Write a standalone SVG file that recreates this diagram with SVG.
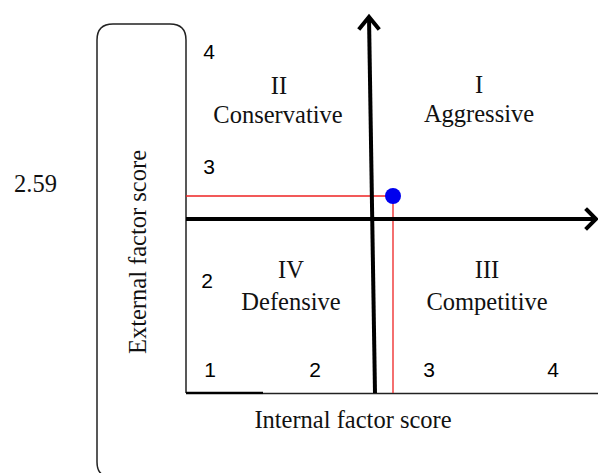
<svg xmlns="http://www.w3.org/2000/svg" width="598" height="473" viewBox="0 0 598 473">
<style>
.serif{font-family:"Liberation Serif","Times New Roman",serif;font-size:24.5px;fill:#111}
.num{font-family:"Liberation Sans",Arial,sans-serif;font-size:21px;fill:#000}
.axis{stroke:#000;stroke-width:4;fill:none;stroke-linecap:butt}
.head{stroke:#000;stroke-width:4;fill:none;stroke-linejoin:miter;stroke-linecap:square}
.red{stroke:#ee2222;stroke-width:1.3;fill:none}
</style>
<rect width="598" height="473" fill="#fff"/>
<g id="frame">
<path d="M186,393 L186,40 Q186,24 170,24 L113,24 Q97,24 97,40 L97,462 Q97,474 106,476" fill="none" stroke="#222" stroke-width="1.5"/>
<line x1="186" y1="393" x2="263" y2="393" stroke="#000" stroke-width="2.5"/>
<line x1="263" y1="393.5" x2="598" y2="393.5" stroke="#222" stroke-width="1.5"/>
</g>
<g id="connectors">
<line class="red" x1="186" y1="196" x2="393" y2="196"/>
<line class="red" x1="393" y1="196" x2="393" y2="393"/>
<line class="axis" x1="186" y1="219" x2="595" y2="219"/>
<polyline class="head" points="587,210 596,219 587,228"/>
<line class="axis" x1="369" y1="17" x2="375" y2="393"/>
<polyline class="head" points="360,28 369,17 378,28"/>
</g>
<g id="point">
<circle cx="393" cy="196" r="8" fill="#0000ee"/>
</g>
<g id="y-ticks">
<text class="num" x="209" y="59" text-anchor="middle">4</text>
<text class="num" x="209" y="174" text-anchor="middle">3</text>
<text class="num" x="207" y="288" text-anchor="middle">2</text>
<text class="num" x="210" y="377" text-anchor="middle">1</text>
</g>
<g id="x-ticks">
<text class="num" x="315" y="377" text-anchor="middle">2</text>
<text class="num" x="429" y="377" text-anchor="middle">3</text>
<text class="num" x="553" y="377" text-anchor="middle">4</text>
</g>
<g id="q2">
<text class="serif" x="279" y="94" text-anchor="middle">II</text>
<text class="serif" x="278" y="123" text-anchor="middle">Conservative</text>
</g>
<g id="q1">
<text class="serif" x="479" y="93" text-anchor="middle">I</text>
<text class="serif" x="479" y="122" text-anchor="middle">Aggressive</text>
</g>
<g id="q4">
<text class="serif" x="291" y="278" text-anchor="middle">IV</text>
<text class="serif" x="291" y="310" text-anchor="middle">Defensive</text>
</g>
<g id="q3">
<text class="serif" x="487" y="278" text-anchor="middle">III</text>
<text class="serif" x="487" y="310" text-anchor="middle">Competitive</text>
</g>
<g id="labels">
<text class="serif" x="35.5" y="192" text-anchor="middle">2.59</text>
<text class="serif" x="353" y="428" text-anchor="middle">Internal factor score</text>
<text class="serif" transform="translate(146,252) rotate(-90)" text-anchor="middle">External factor score</text>
</g>
</svg>
